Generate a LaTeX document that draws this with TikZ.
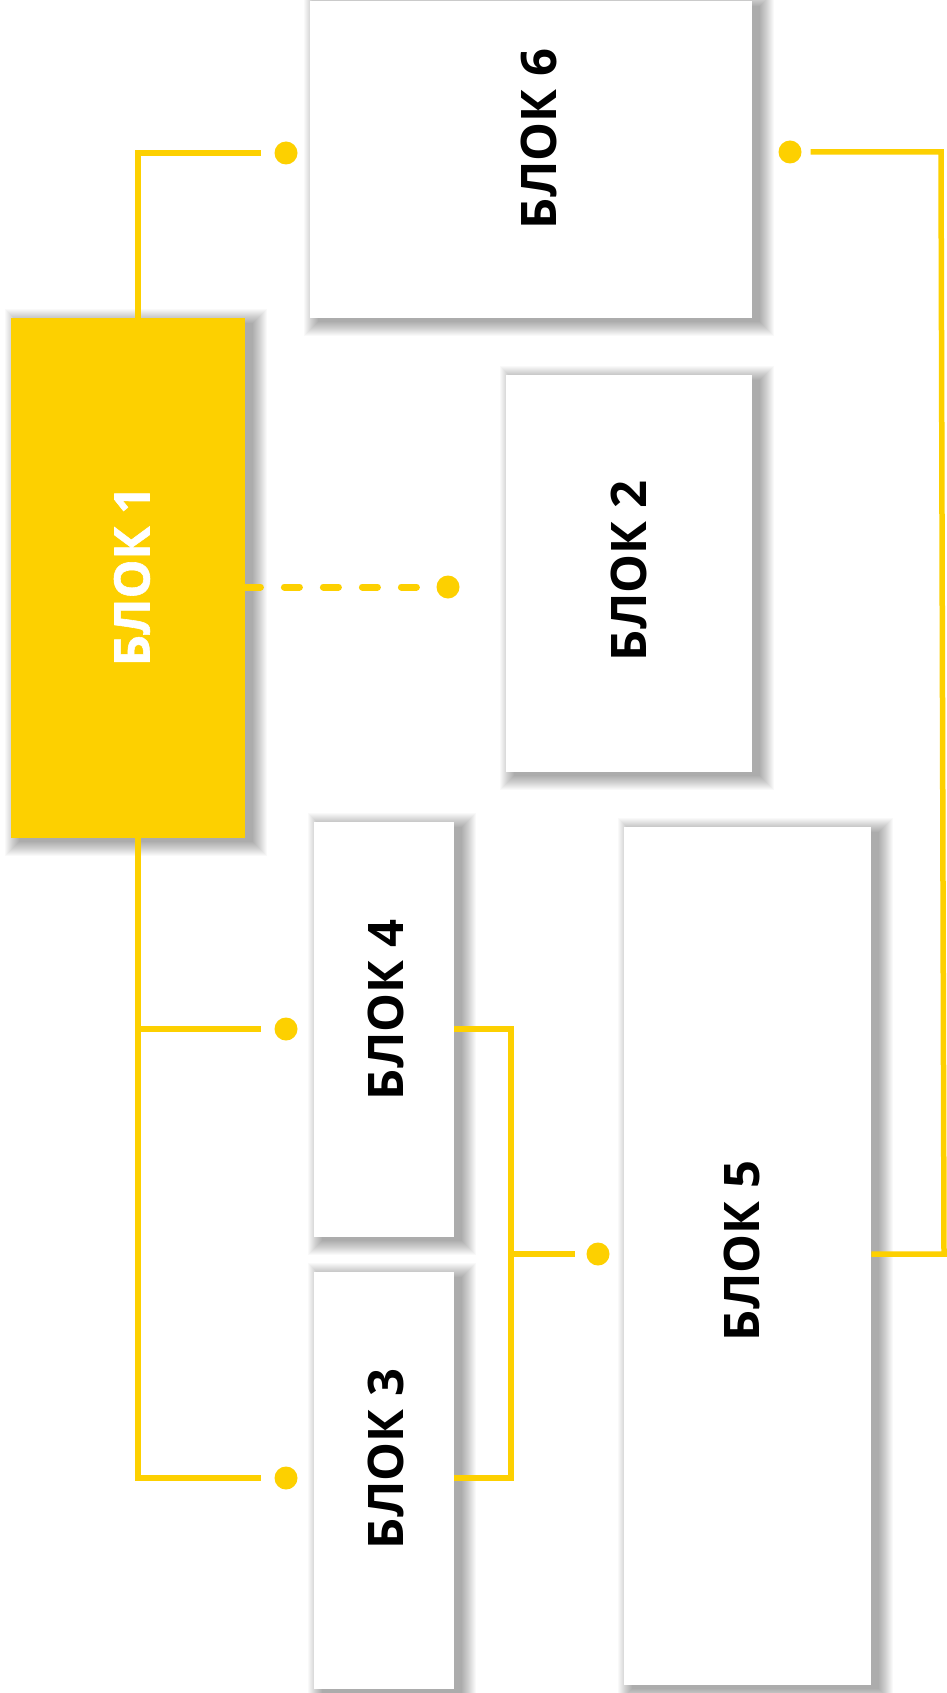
\documentclass[tikz,border=0pt]{standalone}
\usepackage{fontspec}
\setmainfont{Open Sans}
\newfontfamily\heavyfont[FakeBold=1.2]{Open Sans}
\usetikzlibrary{calc,backgrounds}
\definecolor{ylw}{HTML}{FDD000}
\newcommand\shadowof[1]{%
  \foreach \e in {0,...,14}{%
    \fill[black,fill opacity=0.024] ($(#1.north west)+(8-\e,5-\e)$) rectangle ($(#1.south east)+(8+\e,4+\e)$);}}
\begin{document}
\begin{tikzpicture}[x=1pt,y=-1pt,
  box/.style={draw=none,fill=white,anchor=north west,inner sep=0pt},
  ybox/.style={box,fill=ylw},
  lbl/.style={rotate=90,inner sep=0pt,font=\fontsize{49}{56}\selectfont\bfseries},
  conn/.style={draw=ylw,line width=5.5pt},
  dconn/.style={draw=ylw,line width=7pt,line cap=round,dash pattern=on 15pt off 24pt},
  dot/.style={circle,fill=ylw,inner sep=0pt,minimum size=23pt}]
\useasboundingbox (0,0) rectangle (946,1693);

% boxes
\node[box,minimum width=442pt,minimum height=317pt] (b6) at (310,1) {};
\node[ybox,minimum width=234pt,minimum height=520pt] (b1) at (11,318) {};
\node[box,minimum width=246pt,minimum height=397pt] (b2) at (506,375) {};
\node[box,minimum width=140pt,minimum height=415pt] (b4) at (314,822) {};
\node[box,minimum width=140pt,minimum height=417pt] (b3) at (314,1272) {};
\node[box,minimum width=247pt,minimum height=858pt] (b5) at (624,827) {};

\begin{scope}[on background layer]
  \fill[white] (0,0) rectangle (946,1693);
  \shadowof{b6}\shadowof{b1}\shadowof{b2}\shadowof{b4}\shadowof{b3}\shadowof{b5}
\end{scope}

% labels
\node[lbl,text=white,font=\fontsize{49}{56}\selectfont\heavyfont\bfseries] (t1) at (132,576) {БЛОК 1};
\node[lbl] (t2) at (629,571) {БЛОК 2};
\node[lbl] (t3) at (386,1459) {БЛОК 3};
\node[lbl] (t4) at (386,1010) {БЛОК 4};
\node[lbl] (t5) at (742,1251) {БЛОК 5};
\node[lbl] (t6) at (539,139) {БЛОК 6};

% dots
\node[dot] (d6l) at (286,153) {};
\node[dot] (d6r) at (790,152) {};
\node[dot] (d2) at (448,587) {};
\node[dot] (d4) at (286,1029) {};
\node[dot] (d3) at (286,1478) {};
\node[dot] (d5) at (598,1254) {};

\coordinate (trunk) at (138,0);
\coordinate (mid) at (511,0);
\coordinate (rt) at (941,152);
\coordinate (rb) at (944,1254);

% connectors
\draw[conn] (b1.north -| trunk) |- ([xshift=-13pt]d6l.west);
\draw[conn] (b1.south -| trunk) |- ([xshift=-13pt]d3.west);
\draw[conn] (trunk |- d4) -- ([xshift=-13pt]d4.west);
\draw[dconn] (b1.east |- d2) -- (d2.west);
\draw[conn] (b4.east |- d4) -| (mid |- d3) -- (b3.east |- d3);
\draw[conn] (mid |- d5) -- ([xshift=-11pt]d5.west);
\draw[conn] ([xshift=9pt]d6r.east) -- (rt) -- (rb) -- (b5.east |- d5);
\end{tikzpicture}
\end{document}
